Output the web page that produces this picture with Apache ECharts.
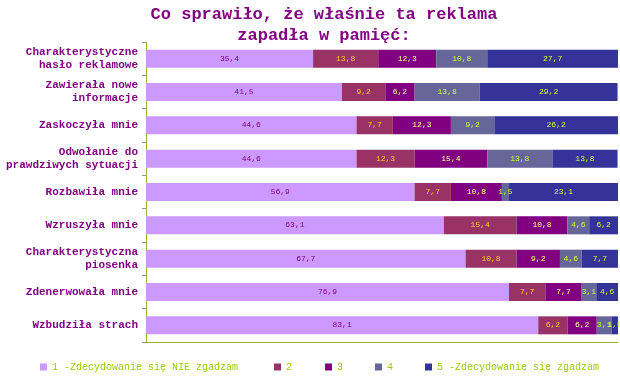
<!DOCTYPE html>
<html>
<head>
<meta charset="utf-8">
<script src="https://cdn.jsdelivr.net/npm/echarts@6/dist/echarts.min.js"></script>
<style>
html,body{margin:0;padding:0;background:#fff;}
#c{width:620px;height:383px;}
</style>
</head>
<body>
<div id="c"></div>
<script>
const categories = [
  "Charakterystyczne\nhasło reklamowe",
  "Zawierała nowe\ninformacje",
  "Zaskoczyła mnie",
  "Odwołanie do\nprawdziwych sytuacji",
  "Rozbawiła mnie",
  "Wzruszyła mnie",
  "Charakterystyczna\npiosenka",
  "Zdenerwowała mnie",
  "Wzbudziła strach"
];
const seriesNames = ["1 -Zdecydowanie się NIE zgadzam", "2", "3", "4", "5 -Zdecydowanie się zgadzam"];
const s1 = [35.4, 41.5, 44.6, 44.6, 56.9, 63.1, 67.7, 76.9, 83.1];
const s2 = [13.8, 9.2, 7.7, 12.3, 7.7, 15.4, 10.8, 7.7, 6.2];
const s3 = [12.3, 6.2, 12.3, 15.4, 10.8, 10.8, 9.2, 7.7, 6.2];
const s4 = [10.8, 13.8, 9.2, 13.8, 1.5, 4.6, 4.6, 3.1, 3.1];
const s5 = [27.7, 29.2, 26.2, 13.8, 23.1, 6.2, 7.7, 4.6, 1.5];

const values = [s1, s2, s3, s4, s5];
const barColors = ["#cc99ff", "#993366", "#800080", "#666699", "#333399"];
const labelColors = ["#800080", "#ffcc33", "#ffff99", "#ccff33", "#ccff33"];
const mono = "'Courier New','Liberation Mono','DejaVu Sans Mono',monospace";

const series = values.map((v, i) => ({
  name: seriesNames[i],
  type: 'bar',
  stack: 'total',
  barWidth: 18,
  data: v,
  itemStyle: { color: barColors[i] },
  label: {
    show: true,
    position: 'inside',
    color: labelColors[i],
    fontFamily: mono,
    fontSize: 8,
    formatter: p => String(p.value).replace('.', ',')
  }
}));

const legendLefts = [40, 274, 325, 375, 425];
const legends = seriesNames.map((n, i) => ({
  data: [n],
  left: legendLefts[i],
  top: 362,
  itemWidth: 7,
  itemHeight: 7,
  itemGap: 0,
  icon: 'rect',
  textStyle: { color: '#99cc00', fontFamily: mono, fontSize: 10 },
  padding: 0
}));

const chart = echarts.init(document.getElementById('c'));
chart.setOption({
  animation: false,
  backgroundColor: '#ffffff',
  title: {
    text: "Co sprawiło, że właśnie ta reklama\nzapadła w pamięć:",
    left: 324,
    textAlign: 'center',
    top: 4,
    padding: 0,
    textStyle: { color: '#800080', fontFamily: mono, fontWeight: 'bold', fontSize: 17, lineHeight: 21 }
  },
  legend: legends,
  grid: { left: 146, right: 2, top: 42, bottom: 41 },
  xAxis: {
    type: 'value',
    min: 0,
    max: 100,
    axisLabel: { show: false },
    axisTick: { show: false },
    splitLine: { show: false },
    axisLine: { show: true, lineStyle: { color: '#99b433', width: 1 } }
  },
  yAxis: {
    type: 'category',
    inverse: true,
    data: categories,
    axisLine: { show: true, lineStyle: { color: '#99b433' } },
    axisTick: { show: true, length: 4, lineStyle: { color: '#999966' } },
    axisLabel: {
      color: '#800080',
      fontFamily: mono,
      fontWeight: 'bold',
      fontSize: 11,
      lineHeight: 13,
      margin: 8,
      align: 'right'
    }
  },
  series: series
});
</script>
</body>
</html>
